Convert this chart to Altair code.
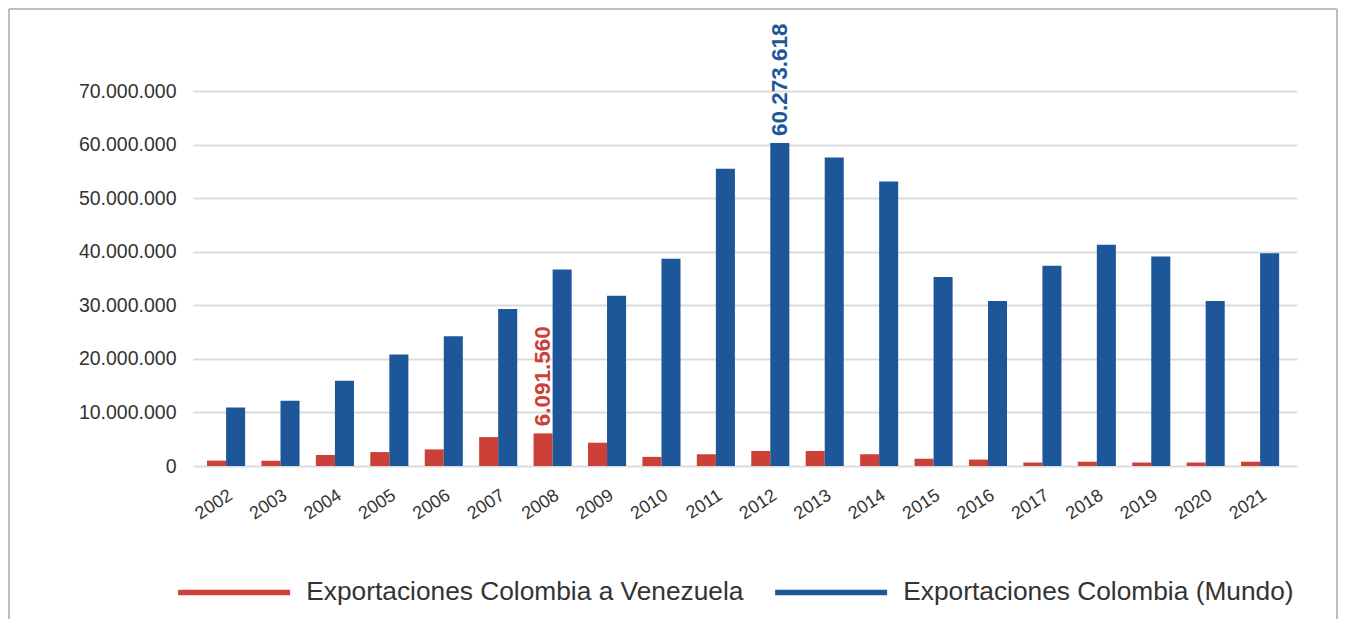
import altair as alt
import pandas as pd

years = ["2002", "2003", "2004", "2005", "2006", "2007", "2008", "2009", "2010", "2011",
         "2012", "2013", "2014", "2015", "2016", "2017", "2018", "2019", "2020", "2021"]
venezuela = [1000000, 1000000, 2060000, 2600000, 3100000, 5400000, 6091560, 4350000, 1700000, 2200000,
             2800000, 2800000, 2200000, 1350000, 1200000, 650000, 800000, 650000, 650000, 800000]
mundo = [10900000, 12200000, 15900000, 20800000, 24200000, 29300000, 36700000, 31800000, 38700000, 55500000,
         60273618, 57600000, 53100000, 35300000, 30800000, 37400000, 41300000, 39100000, 30800000, 39700000]
series_names = ["Exportaciones Colombia a Venezuela", "Exportaciones Colombia (Mundo)"]
colors = ["#CC4037", "#1D5799"]
labeled_points = [("2008", series_names[0]), ("2012", series_names[1])]
y_ticks = [0, 10000000, 20000000, 30000000, 40000000, 50000000, 60000000, 70000000]

rows = []
for i, yr in enumerate(years):
    for s, vals in zip(series_names, [venezuela, mundo]):
        v = vals[i]
        lab = f"{v:,}".replace(",", ".") if (yr, s) in labeled_points else ""
        rows.append(dict(year=yr, series=s, value=v, label=lab))
df = pd.DataFrame(rows)

W, H = 1104, 375
FONT = "Liberation Sans"

xenc = alt.X("year:N", sort=years,
             scale=alt.Scale(paddingInner=0.3, paddingOuter=0.293, align=0.44),
             axis=alt.Axis(title=None, labelAngle=327, labelFontSize=18, labelColor="#333333",
                           labelPadding=20, ticks=False, domain=False, labelFont=FONT))
xoff = alt.XOffset("series:N", sort=series_names,
                   scale=alt.Scale(domain=series_names, paddingInner=0, paddingOuter=0))
yenc = alt.Y("value:Q", scale=alt.Scale(domain=[0, 70000000], nice=False),
             axis=alt.Axis(title=None, values=y_ticks,
                           labelExpr="replace(format(datum.value, ','), regexp(',', 'g'), '.')",
                           ticks=False, domain=False, grid=True, gridColor="#dcdcdc", gridWidth=2,
                           labelPadding=17, labelFontSize=19.5, labelColor="#333333", labelFont=FONT))
color = alt.Color("series:N", sort=series_names,
                  scale=alt.Scale(domain=series_names, range=colors),
                  legend=alt.Legend(title=None, orient="none", legendX=-18, legendY=488,
                                    direction="horizontal",
                                    symbolType="M-1,-0.28L10.2,-0.28L10.2,0.28L-1,0.28Z",
                                    symbolSize=400, symbolStrokeWidth=0, symbolOpacity=1,
                                    labelFontSize=26.3, labelOffset=105, columnPadding=28,
                                    labelLimit=0,
                                    labelColor="#333333", labelFont=FONT, padding=0))

bars = alt.Chart(df).mark_bar().encode(x=xenc, xOffset=xoff, y=yenc, color=color)

text = alt.Chart(df).transform_filter("datum.label != ''").mark_text(
    angle=270, align="left", baseline="middle", dx=7, fontSize=22.5, fontWeight="bold", font=FONT
).encode(x=alt.X("year:N", sort=years), xOffset=alt.XOffset("series:N", sort=series_names),
         y="value:Q", text="label:N", color=color)

frame_df = pd.DataFrame({"k": [0]})
frame_left = alt.Chart(frame_df).mark_rule(color="#a8a8a8", strokeWidth=1.5).encode(
    x=alt.value(-184), y=alt.value(-82), y2=alt.value(528))
frame_top = alt.Chart(frame_df).mark_rule(color="#a8a8a8", strokeWidth=1.5).encode(
    x=alt.value(-184), x2=alt.value(1144), y=alt.value(-82))
frame_right = alt.Chart(frame_df).mark_rule(color="#a8a8a8", strokeWidth=1.5).encode(
    x=alt.value(1144), y=alt.value(-82), y2=alt.value(528))

chart = alt.layer(bars, text, frame_left, frame_top, frame_right).properties(
    width=W, height=H, padding=0, background="white"
).configure(font=FONT).configure_view(strokeWidth=0, stroke="transparent")

chart.save("out.html", embed_options={"renderer": "svg", "actions": False})
